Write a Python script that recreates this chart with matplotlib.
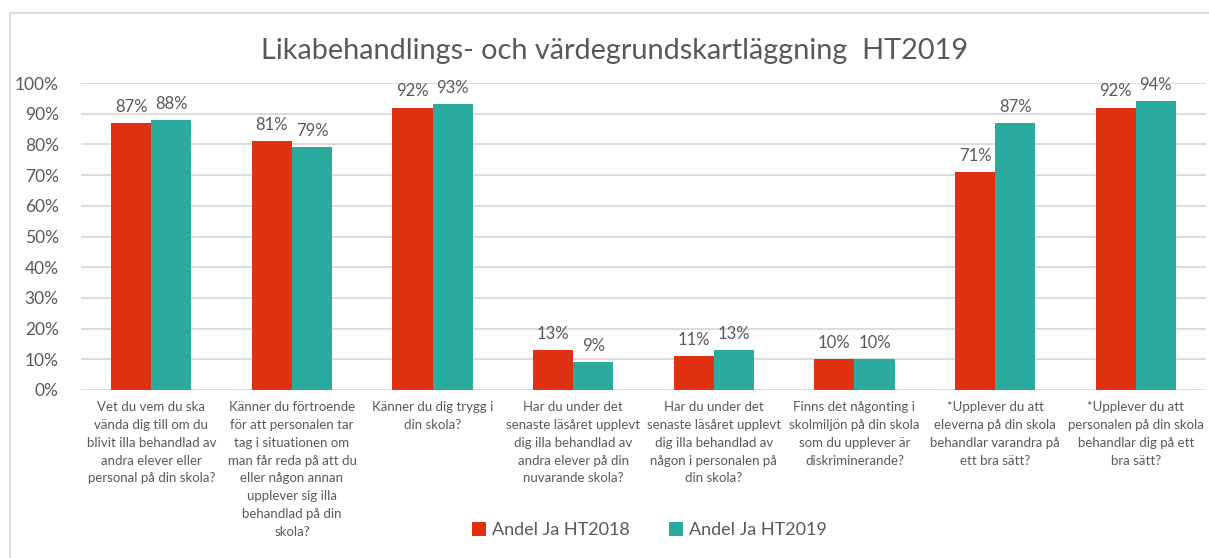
import numpy as np
import matplotlib.pyplot as plt
from matplotlib.patches import Rectangle

plt.rcParams['font.family'] = ['Lato', 'DejaVu Sans']

TITLE = "Likabehandlings- och värdegrundskartläggning  HT2019"

categories = [
    "Vet du vem du ska\nvända dig till om du\nblivit illa behandlad av\nandra elever eller\npersonal på din skola?",
    "Känner du förtroende\nför att personalen tar\ntag i situationen om\nman får reda på att du\neller någon annan\nupplever sig illa\nbehandlad på din\nskola?",
    "Känner du dig trygg i\ndin skola?",
    "Har du under det\nsenaste läsåret upplevt\ndig illa behandlad av\nandra elever på din\nnuvarande skola?",
    "Har du under det\nsenaste läsåret upplevt\ndig illa behandlad av\nnågon i personalen på\ndin skola?",
    "Finns det någonting i\nskolmiljön på din skola\nsom du upplever är\ndiskriminerande?",
    "*Upplever du att\neleverna på din skola\nbehandlar varandra på\nett bra sätt?",
    "*Upplever du att\npersonalen på din skola\nbehandlar dig på ett\nbra sätt?",
]
series_names = ["Andel Ja HT2018", "Andel Ja HT2019"]
ht2018 = [0.87, 0.81, 0.92, 0.13, 0.11, 0.10, 0.71, 0.92]
ht2019 = [0.88, 0.79, 0.93, 0.09, 0.13, 0.10, 0.87, 0.94]

RED = "#E03113"
TEAL = "#2BAA9E"
TXT = "#595959"
GRID = "#D9D9D9"

fig = plt.figure(figsize=(12.09, 5.58), dpi=100)
ax = fig.add_axes([81 / 1209, 1 - 390 / 558, 1125 / 1209, 307 / 558])

# outer chart frame
fig.patches.append(Rectangle((10 / 1209, -0.01), 1.0, 1 - 13 / 558 + 0.01,
                             transform=fig.transFigure, fill=False,
                             edgecolor=GRID, linewidth=1.3))

x = np.arange(len(categories))
w = 0.285
b1 = ax.bar(x - w / 2, ht2018, w, color=RED, label=series_names[0], zorder=3)
b2 = ax.bar(x + w / 2, ht2019, w, color=TEAL, label=series_names[1], zorder=3)

for bars, vals in ((b1, ht2018), (b2, ht2019)):
    for r, v in zip(bars, vals):
        ax.annotate("%d%%" % round(v * 100), (r.get_x() + r.get_width() / 2, v),
                    xytext=(0, 6), textcoords="offset points",
                    ha="center", va="bottom", fontsize=12, color=TXT)

ax.set_xlim(-0.5, len(categories) - 0.5)
ax.set_ylim(0, 1.0)
ax.set_yticks(np.arange(0, 1.01, 0.1))
ax.set_yticklabels(["%d%%" % t for t in range(0, 101, 10)])
ax.set_xticks(x)
ax.set_xticklabels(categories, fontsize=9.5, color=TXT, linespacing=1.58)
ax.tick_params(axis="y", labelsize=12.5, colors=TXT, length=0, pad=16)
ax.tick_params(axis="x", length=0, pad=8)
ax.grid(axis="y", color=GRID, linewidth=1.3, zorder=0)
for s in ax.spines.values():
    s.set_visible(False)

fig.text(0.508, 1 - 51 / 558, TITLE, ha="center", va="center",
         fontsize=20.8, color=TXT)

fig.legend(handles=[b1, b2], labels=series_names, loc="center",
           bbox_to_anchor=(0.537, 1 - 530 / 558), ncol=2, frameon=False,
           fontsize=13, handlelength=0.8, handleheight=0.8, handletextpad=0.3,
           columnspacing=2.2, labelcolor=TXT)

fig.savefig("out.png", dpi=100)
